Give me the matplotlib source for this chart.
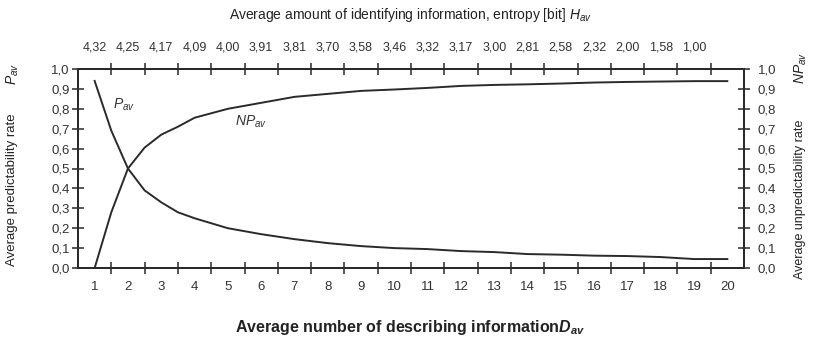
import numpy as np
import matplotlib
matplotlib.use("Agg")
import matplotlib.pyplot as plt
from matplotlib.ticker import FixedLocator, FuncFormatter

plt.rcParams["font.family"] = ["Liberation Sans", "DejaVu Sans"]
plt.rcParams["mathtext.fontset"] = "custom"
plt.rcParams["mathtext.rm"] = "Liberation Sans"
plt.rcParams["mathtext.it"] = "Liberation Sans:italic"
plt.rcParams["mathtext.bf"] = "Liberation Sans:bold:italic"

# average number of describing information D_av (half steps where the curves bend)
d_av = [1, 1.5, 2, 2.5, 3, 3.5, 4, 5, 6, 7, 8, 9, 10, 11, 12, 13, 14, 15, 16, 17, 18, 19, 20]
# predictability / unpredictability rates
p_av = [0.94, 0.69, 0.50, 0.39, 0.33, 0.28, 0.25, 0.20, 0.17, 0.145, 0.125, 0.11, 0.10,
        0.095, 0.085, 0.08, 0.07, 0.067, 0.062, 0.06, 0.055, 0.045, 0.045]
np_av = [0.0, 0.28, 0.50, 0.605, 0.67, 0.71, 0.755, 0.80, 0.83, 0.86, 0.875, 0.89, 0.897,
         0.905, 0.915, 0.92, 0.923, 0.927, 0.932, 0.935, 0.937, 0.939, 0.939]
categories = list(range(1, 21))
# entropy labels on the top axis
h_labels = ["4,32", "4,25", "4,17", "4,09", "4,00", "3,91", "3,81", "3,70",
            "3,58", "3,46", "3,32", "3,17", "3,00", "2,81", "2,58", "2,32",
            "2,00", "1,58", "1,00"]

line_col = "#2a2a2a"
comma = FuncFormatter(lambda v, p: f"{v:.1f}".replace(".", ","))

fig = plt.figure(figsize=(8.21, 3.38), dpi=100)
ax = fig.add_axes([78 / 821, 70 / 338, 666 / 821, 199 / 338])

ax.plot(d_av, p_av, color=line_col, lw=1.4)
ax.plot(d_av, np_av, color=line_col, lw=1.4)

ax.set_xlim(0.5, 20.5)
ax.set_ylim(0, 1.0)

half = np.arange(1.5, 20, 1.0)

# bottom axis: labels on categories, ticks between them
ax.xaxis.set_major_locator(FixedLocator(categories))
ax.xaxis.set_minor_locator(FixedLocator(half))
ax.tick_params(axis="x", which="major", length=0, pad=9, labelsize=9.5, colors="#333333")
ax.tick_params(axis="x", which="minor", direction="inout", length=8, width=1.1, color=line_col)

ax.yaxis.set_major_locator(FixedLocator(np.arange(0, 1.01, 0.1)))
ax.yaxis.set_major_formatter(comma)
ax.tick_params(axis="y", direction="inout", length=8, width=1.1, pad=2,
               labelsize=9.5, color=line_col, labelcolor="#333333")

for s in ax.spines.values():
    s.set_linewidth(1.4)
    s.set_color(line_col)

# right axis
ax_r = ax.twinx()
ax_r.set_ylim(0, 1.0)
ax_r.yaxis.set_major_locator(FixedLocator(np.arange(0, 1.01, 0.1)))
ax_r.yaxis.set_major_formatter(comma)
ax_r.tick_params(axis="y", direction="inout", length=8, width=1.1, pad=6,
                 labelsize=9.5, color=line_col, labelcolor="#333333")

# top axis with entropy values
ax_t = ax.twiny()
ax_t.set_xlim(ax.get_xlim())
ax_t.xaxis.set_major_locator(FixedLocator(categories[:len(h_labels)]))
ax_t.set_xticklabels(h_labels, fontsize=9, color="#333333")
ax_t.xaxis.set_minor_locator(FixedLocator(half))
ax_t.tick_params(axis="x", which="major", length=0, pad=11)
ax_t.tick_params(axis="x", which="minor", direction="inout", length=8, width=1.1, color=line_col)
for a in (ax_r, ax_t):
    for s in a.spines.values():
        s.set_linewidth(1.4)
        s.set_color(line_col)

ax.text(1.87, 0.82, r"$P_{av}$", fontsize=10, ha="center", va="center", color="#333333")
ax.text(5.7, 0.735, r"$NP_{av}$", fontsize=10, ha="center", va="center", color="#333333")

fig.text(0.5, 0.955, r"Average amount of identifying information, entropy [bit] $H_{av}$",
         ha="center", va="center", fontsize=10, color="#222222")
fig.text(0.015, 0.44, "Average predictability rate", rotation=90,
         ha="center", va="center", fontsize=9.5, color="#222222")
fig.text(0.015, 0.78, r"$P_{av}$", rotation=90,
         ha="center", va="center", fontsize=10, color="#222222")
fig.text(0.975, 0.41, "Average unpredictability rate", rotation=90,
         ha="center", va="center", fontsize=9, color="#222222")
fig.text(0.975, 0.80, r"$NP_{av}$", rotation=90,
         ha="center", va="center", fontsize=10, color="#222222")
fig.text(0.5, 0.03, r"Average number of describing information$\mathbf{D_{av}}$",
         ha="center", va="center", fontsize=11.5, fontweight="bold", color="#222222")

fig.savefig("out.png", dpi=100)
